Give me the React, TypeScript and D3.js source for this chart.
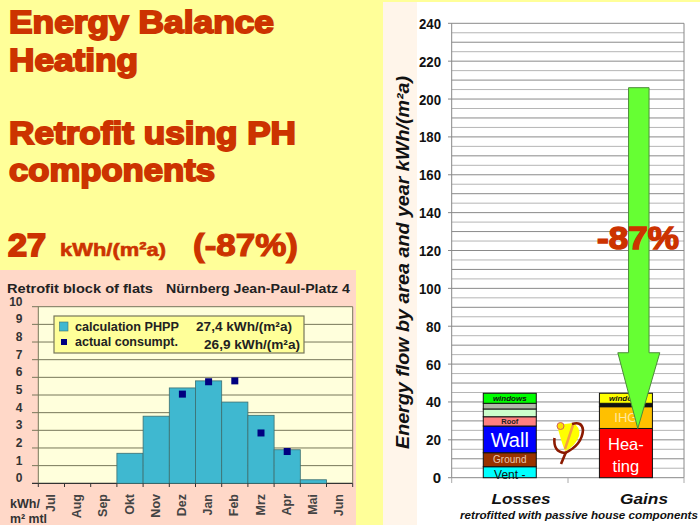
import React from "react";
import * as d3 from "d3";

const months = ["Jul","Aug","Sep","Okt","Nov","Dez","Jan","Feb","Mrz","Apr","Mai","Jun"];
const calc = [0,0,0,1.7,3.8,5.4,5.8,4.6,3.85,1.9,0.2,0];
const actual: [string, number][] = [["Dez",5.05],["Jan",5.75],["Feb",5.8],["Mrz",2.85],["Apr",1.8]];
const leftTicks = [0,1,2,3,4,5,6,7,8,9,10];

const rightTicks = [0,20,40,60,80,100,120,140,160,180,200,220,240];
const rightGrid = d3.range(0,245,5);
const columns = ["Losses","Gains"];
const lossNames = ["Vent","Ground","Wall","Roof","Floor","Loss","windows"];
const lossValues = [5.8,7.4,14.1,4.9,4.1,3.0,5.3];
const lossColors = ["#00ffff","#993300","#0000ff","#ff8080","#ccffcc","#b0b8a8","#00ff00"];
const gainNames = ["Heating","IHG","Solar","windows"];
const gainValues = [26,11.5,1.8,5.3];
const gainColors = ["#ff0000","#ffc000","#111111","#ffff00"];
const arrowStart = 206;
const arrowShaftEnd = 66;
const arrowTip = 26;

const RED = "#cc3300";
const sans = "'Liberation Sans', Arial, sans-serif";
const stretch = "spacingAndGlyphs";

function Heavy({x,y,size,len,children,sw=1.9}:{x:number;y:number;size:number;len?:number;children:React.ReactNode;sw?:number}) {
  return <text x={x} y={y} fontFamily={sans} fontWeight="bold" fontSize={size} fill={RED} stroke={RED} strokeWidth={sw} textLength={len} lengthAdjust={stretch}>{children}</text>;
}

function stack(values:number[]) {
  let acc = 0;
  return values.map(v => { const r=[acc,acc+v]; acc+=v; return r; });
}

export default function App() {
  const lx = d3.scaleBand().domain(months).range([38.3,352.7]).paddingInner(0).paddingOuter(0);
  const ly = d3.scaleLinear().domain([0,10]).range([483.3,306.7]);
  const ry = d3.scaleLinear().domain([0,240]).range([477.7,23.3]);
  const rx = d3.scaleBand().domain(columns).range([451.7,684]);
  const barW = 53;
  const colCenter = (c:string)=> rx(c)! + rx.bandwidth()/2;
  const lossStack = stack(lossValues);
  const gainStack = stack(gainValues);
  const lossX = colCenter("Losses")-barW/2;
  const gainX = colCenter("Gains")-barW/2;
  const axcx = 638.8, shaftW = 20.5, headW = 42;
  const arrow = d3.line()([
    [axcx-shaftW/2, ry(arrowStart)],[axcx+shaftW/2, ry(arrowStart)],
    [axcx+shaftW/2, ry(arrowShaftEnd)],[axcx+headW/2, ry(arrowShaftEnd)],
    [axcx-1, ry(arrowTip)],[axcx-headW/2, ry(arrowShaftEnd)],[axcx-shaftW/2, ry(arrowShaftEnd)],
  ])+"Z";
  const segText = (name:string, [a,b]:number[], cx:number, size:number, fill:string, dy=0, style?:any) =>
    <text key={name+cx} x={cx} y={(ry(a)+ry(b))/2+size*0.36+dy} textAnchor="middle" fontFamily={sans} fontSize={size} fill={fill} {...style}>{name}</text>;

  return (
    <svg width={700} height={525} style={{position:"absolute",left:0,top:0}}>
      <rect width={700} height={525} fill="#ffff99"/>
      <rect x={383} y={2} width={34} height={523} fill="#fff5ea"/>
      <rect x={417} y={2} width={283} height={523} fill="#ffffff"/>

      <Heavy x={9} y={33} size={32} len={265}>Energy Balance</Heavy>
      <Heavy x={9} y={71} size={32} len={129}>Heating</Heavy>
      <Heavy x={9} y={144} size={32} len={287}>Retrofit using PH</Heavy>
      <Heavy x={9} y={181} size={32} len={206}>components</Heavy>
      <Heavy x={8} y={256} size={32} len={38}>27</Heavy>
      <Heavy x={60} y={256} size={19} len={106} sw={0.6}>kWh/(m²a)</Heavy>
      <Heavy x={193} y={256} size={32} len={105} sw={1.2}>(-87%)</Heavy>

      <rect x={0} y={270} width={356} height={255} fill="#ffd8c8"/>
      <text x={7} y={293} fontFamily={sans} fontWeight="bold" fontSize={13} fill="#222" textLength={146} lengthAdjust={stretch}>Retrofit block of flats</text>
      <text x={166} y={293} fontFamily={sans} fontWeight="bold" fontSize={13} fill="#222" textLength={184} lengthAdjust={stretch}>Nürnberg Jean-Paul-Platz 4</text>
      <rect x={38.3} y={306.7} width={314.4} height={176.6} fill="#ffffdc"/>
      {leftTicks.map(t=>(
        <g key={t}>
          <line x1={32} x2={352.7} y1={ly(t)} y2={ly(t)} stroke={t===0?"#333":"#77775a"} strokeWidth={t===0?1.2:1}/>
          <text x={22.5} y={ly(t)-1} textAnchor="end" fontFamily={sans} fontWeight="bold" fontSize={12} fill="#333">{t}</text>
        </g>
      ))}
      <line x1={38.3} x2={38.3} y1={306.7} y2={483.3} stroke="#77775a"/>
      <line x1={352.7} x2={352.7} y1={306.7} y2={483.3} stroke="#77775a"/>
      {months.map((m,i)=>(
        <g key={m}>
          {calc[i]>0 && <rect x={lx(m)} y={ly(calc[i])} width={lx.bandwidth()} height={ly(0)-ly(calc[i])} fill="#3fb8d0" stroke="#3c6e70" strokeWidth={0.8}/>}
          <line x1={lx(m)} x2={lx(m)} y1={483.3} y2={487} stroke="#333"/>
          <text transform={`translate(${lx(m)!+lx.bandwidth()/2+3.5},494) rotate(-90)`} textAnchor="end" fontFamily={sans} fontWeight="bold" fontSize={12.5} fill="#444">{m}</text>
        </g>
      ))}
      <line x1={352.7} x2={352.7} y1={483.3} y2={487} stroke="#333"/>
      {actual.map(([m,v])=>(
        <rect key={m} x={lx(m)!+lx.bandwidth()/2-3.5} y={ly(v)-3.5} width={7} height={7} fill="#000080"/>
      ))}
      <rect x={54} y={316} width={250} height={37} fill="#ffff99" stroke="#77775a" strokeWidth={1.2}/>
      <rect x={59.5} y={322} width={8.5} height={9} fill="#3fb8d0" stroke="#3c6e70" strokeWidth={0.6}/>
      <rect x={61} y={339} width={6} height={6} fill="#000080"/>
      <g fontFamily={sans} fontWeight="bold" fontSize={12} fill="#222">
        <text x={75} y={331} textLength={104} lengthAdjust={stretch}>calculation PHPP</text>
        <text x={196} y={331} textLength={96} lengthAdjust={stretch}>27,4 kWh/(m²a)</text>
        <text x={75} y={346} textLength={103} lengthAdjust={stretch}>actual consumpt.</text>
        <text x={204} y={349} textLength={96} lengthAdjust={stretch}>26,9 kWh/(m²a)</text>
      </g>
      <g fontFamily={sans} fontWeight="bold" fontSize={12} fill="#333">
        <text x={10} y={508} textLength={30} lengthAdjust={stretch}>kWh/</text>
        <text x={10} y={523} textLength={37} lengthAdjust={stretch}>m² mtl</text>
      </g>

      {rightGrid.map(t=>(
        <line key={t} x1={t%20===0?448:451.7} x2={684} y1={ry(t)} y2={ry(t)} stroke={t===0?"#888":(t%10===0?"#8a8a8a":"#b5b5b5")} strokeWidth={1}/>
      ))}
      <line x1={451.7} x2={451.7} y1={23.3} y2={477.7} stroke="#888"/>
      <line x1={684} x2={684} y1={23.3} y2={477.7} stroke="#888"/>
      <line x1={568} x2={568} y1={477.7} y2={483} stroke="#aaa"/>
      <line x1={451.7} x2={451.7} y1={477.7} y2={483} stroke="#aaa"/>
      <line x1={684} x2={684} y1={477.7} y2={483} stroke="#aaa"/>
      {rightTicks.map(t=>(
        <text key={t} x={441} y={ry(t)+5.5} textAnchor="end" fontFamily={sans} fontWeight="bold" fontSize={15} fill="#111" textLength={t>=100?22:t>0?15:undefined} lengthAdjust={stretch}>{t}</text>
      ))}
      <text transform="translate(409,449) rotate(-90)" fontFamily={sans} fontWeight="bold" fontStyle="italic" fontSize={17.5} fill="#111" textLength={373} lengthAdjust={stretch}>Energy flow by area and year  kWh/(m²a)</text>

      {lossStack.map((s,i)=>(
        <rect key={lossNames[i]} x={lossX} y={ry(s[1])} width={barW} height={ry(s[0])-ry(s[1])} fill={lossColors[i]} stroke="#111" strokeWidth={1}/>
      ))}
      {gainStack.map((s,i)=>(
        <rect key={gainNames[i]} x={gainX} y={ry(s[1])} width={barW} height={ry(s[0])-ry(s[1])} fill={gainColors[i]} stroke="#111" strokeWidth={1}/>
      ))}
      {segText("Vent -",lossStack[0],colCenter("Losses"),12,"#111",2)}
      {segText("Ground",lossStack[1],colCenter("Losses"),10,"#e8c8b0")}
      {segText("Wall",lossStack[2],colCenter("Losses"),20,"#fff")}
      {segText("Roof",lossStack[3],colCenter("Losses"),7.5,"#222",0,{fontWeight:"bold"})}
      {segText("windows",lossStack[6],colCenter("Losses"),8,"#111",0,{fontStyle:"italic",fontWeight:"bold"})}
      {segText("windows",gainStack[3],colCenter("Gains"),8,"#111",0,{fontStyle:"italic",fontWeight:"bold"})}
      {segText("IHG",gainStack[1],colCenter("Gains"),13,"#ffe9a0")}
      <text x={colCenter("Gains")} y={450} textAnchor="middle" fontFamily={sans} fontSize={16.5} fill="#fff">Hea-</text>
      <text x={colCenter("Gains")} y={472} textAnchor="middle" fontFamily={sans} fontSize={16.5} fill="#fff">ting</text>

      <path d={arrow!} fill="#66ff33" stroke="#4d8c3a" strokeWidth={1}/>
      <text x={638} y={249} textAnchor="middle" fontFamily={sans} fontWeight="bold" fontSize={31} fill={RED} stroke={RED} strokeWidth={1.4} textLength={82} lengthAdjust={stretch}>-87%</text>

      <g>
        <path d="M557 425 L573 423 Q581 427 579 436 Q575 447 565 451 Q561 441 557 425 Z" fill="#ffff00"/>
        <path d="M573 425 L565 449" stroke="#f4a040" strokeWidth={2.5}/>
        <path d="M572 424 Q582 421 583 430 Q582 445 565 453 Q553 452 554.5 438" fill="none" stroke="#8b1a00" strokeWidth={2.6}/>
        <path d="M566 452 L561 464" stroke="#8b1a00" strokeWidth={2.6}/>
        <circle cx={560.5} cy={426} r={3.5} fill="#ffe000" stroke="#d06060" strokeWidth={1}/>
      </g>

      <text x={521} y={504} textAnchor="middle" fontFamily={sans} fontWeight="bold" fontStyle="italic" fontSize={15.5} fill="#111" textLength={59} lengthAdjust={stretch}>Losses</text>
      <text x={644} y={504} textAnchor="middle" fontFamily={sans} fontWeight="bold" fontStyle="italic" fontSize={15.5} fill="#111" textLength={48} lengthAdjust={stretch}>Gains</text>
      <text x={460} y={519} fontFamily={sans} fontWeight="bold" fontStyle="italic" fontSize={11} fill="#111" textLength={238} lengthAdjust={stretch}>retrofitted with passive house components</text>
    </svg>
  );
}
